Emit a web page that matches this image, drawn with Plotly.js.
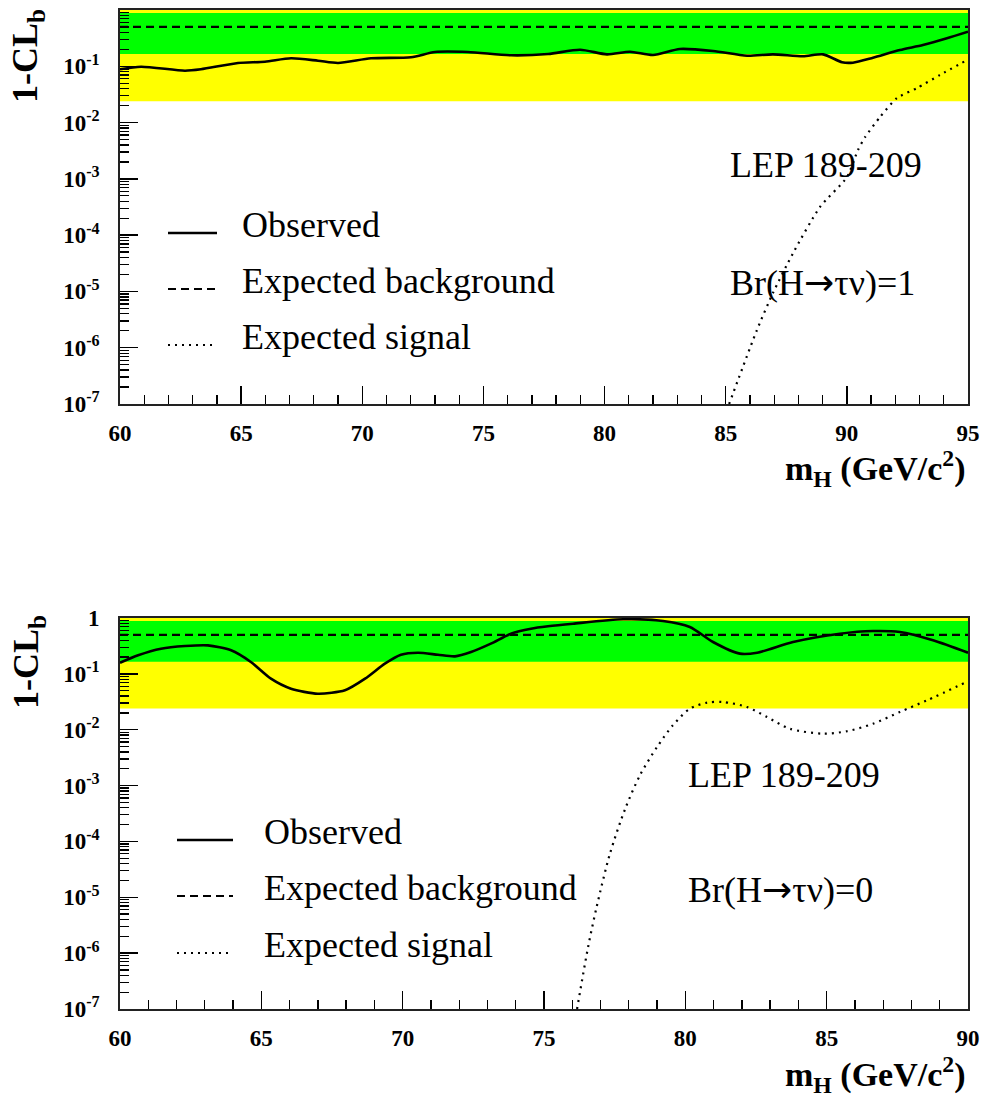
<!DOCTYPE html>
<html>
<head>
<meta charset="utf-8">
<script src="https://cdn.plot.ly/plotly-3.0.1.min.js"></script>
<style>html,body{margin:0;padding:0;background:#fff;}#chart{width:985px;height:1101px;}</style>
</head>
<body>
<div id="chart"></div>
<script>
// ---------- Data ----------
// Top panel: Br(H->tau nu)=1, mH 60-95
const topObsMass = [60.0,60.87,62.68,63.34,64.87,65.98,67.06,68.17,69.0,70.36,72.01,73.0,74.36,76.14,77.67,78.99,80.10,81.05,82.0,83.11,84.48,85.88,86.95,88.19,89.02,89.8,90.25,91.08,92.19,93.14,94.13,95.0];
const topObsVal  = [0.0885,0.0984,0.0835,0.0885,0.1144,0.1207,0.1387,0.1257,0.1144,0.1387,0.1445,0.1795,0.1795,0.1567,0.1653,0.197,0.163,0.1816,0.1587,0.2028,0.187,0.1542,0.163,0.1504,0.163,0.118,0.1159,0.1422,0.1946,0.2388,0.314,0.411];
const topSigMass = [85.14,86.29,86.95,87.78,88.89,90.01,90.46,90.75,91.37,92.07,92.90,93.84,94.96];
const topSigVal  = [1e-7,2.07e-6,9.4e-6,4.8e-5,3.16e-4,1.08e-3,3.26e-3,5.5e-3,0.01257,0.0273,0.0411,0.070,0.129];
const topBkgMass = [60,95];
const topBkgVal  = [0.5,0.5];
const topRange   = [60,95];

// Bottom panel: Br(H->tau nu)=0, mH 60-90
const botObsMass = [60.0,60.64,61.45,62.30,63.11,63.93,64.63,65.34,66.05,67.0,67.96,68.67,69.37,69.94,70.54,71.25,71.85,72.42,73.12,73.83,74.54,75.14,76.03,77.80,79.21,80.16,80.98,81.93,82.54,83.81,85.47,86.64,87.59,88.76,90.0];
const botObsVal  = [0.158,0.215,0.282,0.315,0.324,0.264,0.163,0.0819,0.0542,0.0441,0.0508,0.0819,0.152,0.220,0.239,0.220,0.206,0.246,0.347,0.524,0.643,0.710,0.791,0.948,0.884,0.690,0.372,0.230,0.239,0.372,0.524,0.585,0.561,0.399,0.239];
const botSigMass = [76.17,76.56,76.87,77.33,77.87,78.40,79.0,79.56,80.16,80.77,81.33,82.18,82.89,83.70,84.87,85.72,86.64,87.59,88.55,90.0];
const botSigVal  = [1e-7,1.29e-6,6.98e-6,5.96e-5,3.81e-4,1.55e-3,4.91e-3,0.0120,0.0238,0.0305,0.0313,0.0255,0.0169,0.0104,0.0085,0.0094,0.0128,0.0208,0.0336,0.0736];
const botBkgMass = [60,90];
const botBkgVal  = [0.5,0.5];
const botRange   = [60,90];

// Expected-background bands (1 sigma green, 2 sigma yellow)
const band1sLow = 0.165, band1sHigh = 0.885;
const band2sLow = 0.024, band2sHigh = 1.0;

// Tick labels
const yTickVals = [1e-7,1e-6,1e-5,1e-4,1e-3,1e-2,1e-1,1];
const yTickText = ['10<sup>-7</sup>','10<sup>-6</sup>','10<sup>-5</sup>','10<sup>-4</sup>','10<sup>-3</sup>','10<sup>-2</sup>','10<sup>-1</sup>','1'];
const legendLabels = ['Observed','Expected background','Expected signal'];

// ---------- Build ----------
const W = 985, H = 1101;
const px = v => v / W;
const py = v => 1 - v / H;
const SERIF = '"Liberation Serif", "Times New Roman", serif';

const yMinor = [];
for (let e = -7; e < 0; e++) for (let d = 2; d <= 9; d++) yMinor.push(d * Math.pow(10, e));

function bandTrace(range, lo, hi, color, xa, ya) {
  return {x:[range[0],range[1],range[1],range[0],range[0]], y:[lo,lo,hi,hi,lo],
    xaxis:xa, yaxis:ya, mode:'lines', fill:'toself', fillcolor:color,
    line:{width:0,color:color}, hoverinfo:'skip', showlegend:false};
}
function lineTrace(x, y, style, xa, ya, smooth) {
  const t = {x:x, y:y, xaxis:xa, yaxis:ya, mode:'lines', showlegend:false,
    line:Object.assign({color:'#000'}, style)};
  if (smooth) { t.line.shape = 'spline'; t.line.smoothing = smooth; }
  return t;
}
const obsStyle = {width:2.6};
const bkgStyle = {width:2.2, dash:'8px,5px'};
const sigStyle = {width:2.2, dash:'2px,5px'};

const traces = [
  bandTrace(topRange, band2sLow, band2sHigh, '#ffff00', 'x', 'y'),
  bandTrace(topRange, band1sLow, band1sHigh, '#00ff00', 'x', 'y'),
  lineTrace(topBkgMass, topBkgVal, bkgStyle, 'x', 'y', 0),
  lineTrace(topObsMass, topObsVal, obsStyle, 'x', 'y', 0.7),
  lineTrace(topSigMass, topSigVal, sigStyle, 'x', 'y', 0.6),
  bandTrace(botRange, band2sLow, band2sHigh, '#ffff00', 'x2', 'y2'),
  bandTrace(botRange, band1sLow, band1sHigh, '#00ff00', 'x2', 'y2'),
  lineTrace(botBkgMass, botBkgVal, bkgStyle, 'x2', 'y2', 0),
  lineTrace(botObsMass, botObsVal, obsStyle, 'x2', 'y2', 0.7),
  lineTrace(botSigMass, botSigVal, sigStyle, 'x2', 'y2', 0.8)
];

const tickFont = {family:SERIF, size:23, color:'#000', weight:'bold'};
function xAxis(range, anchor) {
  return {domain:[px(120), px(968)], range:range, anchor:anchor, type:'linear',
    tick0:60, dtick:5, ticks:'inside', ticklen:18, tickwidth:1.3, tickcolor:'#000',
    minor:{dtick:1, ticks:'inside', ticklen:9, tickwidth:1.3, tickcolor:'#000', showgrid:false},
    showline:true, linecolor:'#222', linewidth:1.8, mirror:true,
    showgrid:false, zeroline:false, tickfont:tickFont, ticklabelstandoff:8, automargin:false, fixedrange:true};
}
function yAxis(domain, anchor) {
  return {domain:domain, type:'log', range:[-7,0], anchor:anchor,
    tickmode:'array', tickvals:yTickVals, ticktext:yTickText,
    ticks:'inside', ticklen:18, tickwidth:1.3, tickcolor:'#000',
    minor:{tickvals:yMinor, ticks:'inside', ticklen:9, tickwidth:1.3, tickcolor:'#000', showgrid:false},
    showline:true, linecolor:'#222', linewidth:1.8, mirror:true,
    showgrid:false, zeroline:false, tickfont:tickFont, ticklabelstandoff:14, automargin:false, fixedrange:true};
}

const ann = [];
const shapes = [];
function text(t, x, y, size, bold, xanchor, extra) {
  ann.push(Object.assign({text:t, xref:'paper', yref:'paper', x:px(x), y:py(y), xanchor:xanchor||'left', yanchor:'middle',
    showarrow:false, font:{family:SERIF, size:size, color:'#000', weight:bold?'bold':'normal'}}, extra||{}));
}
function legendBlock(x0, x1, xt, yTexts) {
  const styles = [obsStyle, bkgStyle, sigStyle];
  yTexts.forEach((yt, i) => {
    const yl = yt + 8;
    shapes.push({type:'line', xref:'paper', yref:'paper', x0:px(x0), x1:px(x1), y0:py(yl), y1:py(yl),
      line:Object.assign({color:'#000'}, styles[i])});
    text(legendLabels[i], xt, yt, 36, false, 'left');
  });
}
const ARROW = '<span style="font-family:\'DejaVu Sans\'">\u2192</span>';
// Top panel texts
legendBlock(168, 217, 240, [225, 281, 337]);
text('LEP 189-209', 728, 165, 36, false, 'left');
text('Br(H' + ARROW + '\u03C4\u03BD)=1', 728, 282, 36, false, 'left');
text('m<sub>H</sub> (GeV/c<sup>2</sup>)', 968, 468, 34, true, 'right');
text('1-CL<sub>b</sub>', 28, 56, 36, true, 'center', {textangle:-90});
// Bottom panel texts
legendBlock(177, 233, 262, [832, 888, 945]);
text('LEP 189-209', 686, 775, 36, false, 'left');
text('Br(H' + ARROW + '\u03C4\u03BD)=0', 686, 889, 36, false, 'left');
text('m<sub>H</sub> (GeV/c<sup>2</sup>)', 968, 1074, 34, true, 'right');
text('1-CL<sub>b</sub>', 28, 662, 36, true, 'center', {textangle:-90});

const layout = {
  width:W, height:H, margin:{l:0,r:0,t:0,b:0}, paper_bgcolor:'#fff', plot_bgcolor:'#fff',
  showlegend:false,
  xaxis:xAxis(topRange, 'y'),
  yaxis:yAxis([py(404), py(10)], 'x'),
  xaxis2:xAxis(botRange, 'y2'),
  yaxis2:yAxis([py(1009), py(618)], 'x2'),
  annotations:ann, shapes:shapes
};
Plotly.newPlot('chart', traces, layout, {staticPlot:true, displayModeBar:false});
</script>
</body>
</html>
